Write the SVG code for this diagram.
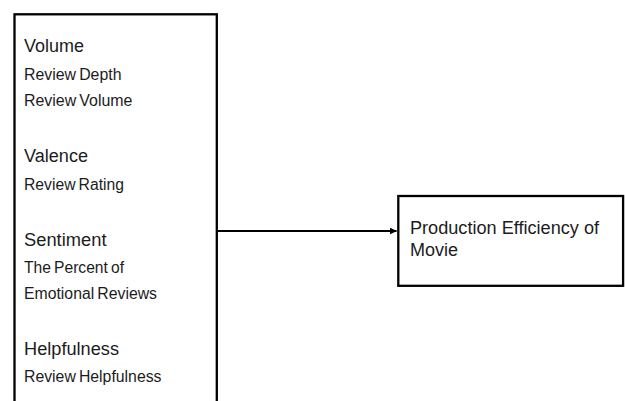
<svg xmlns="http://www.w3.org/2000/svg" width="625" height="401" viewBox="0 0 625 401">
  <style>
    .box { fill: #ffffff; stroke: #000000; stroke-width: 2.3; }
    .h { font-family: "Liberation Sans", Arial, sans-serif; font-size: 17.6px; fill: #1c1c1c; }
    .s { font-family: "Liberation Sans", Arial, sans-serif; font-size: 15.6px; fill: #1c1c1c; word-spacing: -1.3px; }
    .t { font-family: "Liberation Sans", Arial, sans-serif; font-size: 18px; fill: #1c1c1c; }
    .conn { stroke: #000000; stroke-width: 2.2; fill: none; }
  </style>
  <defs>
    <marker id="arrow" markerWidth="8" markerHeight="8" refX="7" refY="4" orient="auto" markerUnits="userSpaceOnUse">
      <path d="M0,0.5 L7.5,4 L0,7.5 Z" fill="#000000"/>
    </marker>
  </defs>
  <rect width="625" height="401" fill="#ffffff"/>
  <g id="factors">
    <rect class="box" x="14.5" y="14.3" width="202.3" height="400"/>
    <text class="h" x="24" y="52" textLength="60" lengthAdjust="spacingAndGlyphs">Volume</text>
    <text class="s" x="24" y="79.5" textLength="97.5" lengthAdjust="spacingAndGlyphs">Review Depth</text>
    <text class="s" x="24" y="106.3" textLength="108.5" lengthAdjust="spacingAndGlyphs">Review Volume</text>
    <text class="h" x="24" y="162" textLength="64" lengthAdjust="spacingAndGlyphs">Valence</text>
    <text class="s" x="24" y="189.5" textLength="100" lengthAdjust="spacingAndGlyphs">Review Rating</text>
    <text class="h" x="24" y="245.6" textLength="82.5" lengthAdjust="spacingAndGlyphs">Sentiment</text>
    <text class="s" x="24" y="272.8" textLength="100" lengthAdjust="spacingAndGlyphs">The Percent of</text>
    <text class="s" x="24" y="299.3" textLength="133" lengthAdjust="spacingAndGlyphs">Emotional Reviews</text>
    <text class="h" x="24" y="355" textLength="95" lengthAdjust="spacingAndGlyphs">Helpfulness</text>
    <text class="s" x="24" y="382.3" textLength="137.5" lengthAdjust="spacingAndGlyphs">Review Helpfulness</text>
  </g>
  <g id="outcome">
    <rect class="box" x="398.3" y="196" width="224.8" height="89.8"/>
    <text class="t" x="410" y="234" textLength="189" lengthAdjust="spacingAndGlyphs">Production Efficiency of</text>
    <text class="t" x="410" y="255.7">Movie</text>
  </g>
  <g id="connectors">
    <line class="conn" x1="217" y1="231" x2="396.5" y2="231" marker-end="url(#arrow)"/>
  </g>
</svg>
